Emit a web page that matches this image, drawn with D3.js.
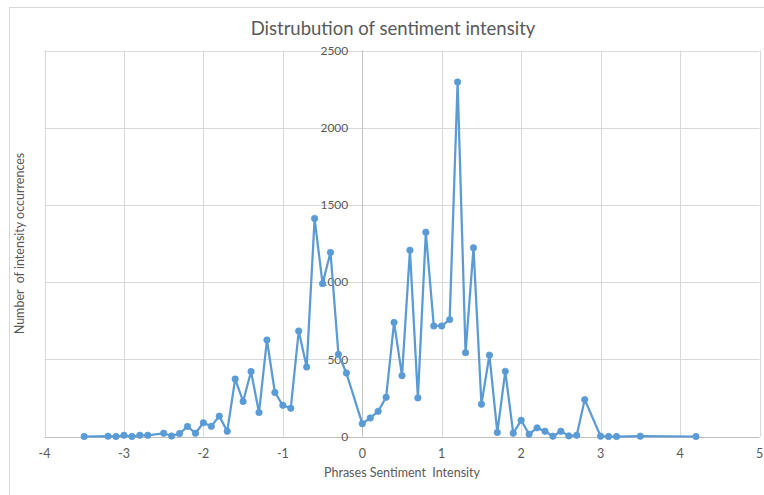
<!DOCTYPE html>
<html>
<head>
<meta charset="utf-8">
<script src="https://cdn.jsdelivr.net/npm/d3@7"></script>
<style>
  html, body { margin: 0; padding: 0; background: #fff; }
  svg { display: block; font-family: Lato, "Open Sans", sans-serif; }
</style>
</head>
<body>
<svg id="chart" width="764" height="495"></svg>
<script>
// ---- data ----
const intensity = [-3.5, -3.2, -3.1, -3.0, -2.9, -2.8, -2.7,
  -2.5, -2.4, -2.3, -2.2, -2.1, -2.0, -1.9, -1.8, -1.7, -1.6, -1.5, -1.4, -1.3, -1.2,
  -1.1, -1.0, -0.9, -0.8, -0.7, -0.6, -0.5, -0.4, -0.3, -0.2,
  0.0, 0.1, 0.2, 0.3, 0.4, 0.5, 0.6, 0.7, 0.8, 0.9, 1.0, 1.1, 1.2, 1.3, 1.4, 1.5,
  1.6, 1.7, 1.8, 1.9, 2.0, 2.1, 2.2, 2.3, 2.4, 2.5, 2.6, 2.7, 2.8,
  3.0, 3.1, 3.2, 3.5, 4.2];
const occurrences = [0, 2, 0, 8, 0, 8, 8,
  21, 3, 19, 65, 21, 89, 66, 132, 34, 372, 227, 421, 155, 625,
  285, 202, 183, 683, 450, 1412, 990, 1192, 532, 411,
  83, 120, 163, 254, 739, 394, 1207, 250, 1323, 716, 716, 757, 2296, 543, 1222, 209,
  527, 26, 422, 21, 105, 15, 56, 34, 2, 34, 4, 8, 239,
  2, 0, 0, 2, 0];
const xTicks = [-4, -3, -2, -1, 0, 1, 2, 3, 4, 5];
const yTicks = [0, 500, 1000, 1500, 2000, 2500];
const titleText = "Distrubution of sentiment intensity";
const xLabel = "Phrases Sentiment\u00a0 Intensity";
const yLabel = "Number\u00a0 of intensity occurrences";

// ---- layout ----
const svg = d3.select("#chart");
const plot = { left: 44.5, right: 759.5, top: 50.5, bottom: 436.5 };
const x = d3.scaleLinear().domain([-4, 5]).range([plot.left, plot.right]);
const y = d3.scaleLinear().domain([0, 2500]).range([plot.bottom, plot.top]);
const textColor = "#595959";
const gridColor = "#d9d9d9";
const axisColor = "#bfbfbf";
const seriesColor = "#5b9bd5";

// outer chart border
svg.append("rect")
  .attr("x", 9.5).attr("y", 7.5).attr("width", 800).attr("height", 520)
  .attr("fill", "none").attr("stroke", gridColor).attr("stroke-width", 1);

// gridlines
svg.append("g").selectAll("line.v").data(xTicks.filter(d => d !== 0)).join("line")
  .attr("x1", d => Math.round(x(d)) + 0.5).attr("x2", d => Math.round(x(d)) + 0.5)
  .attr("y1", plot.top).attr("y2", plot.bottom)
  .attr("stroke", gridColor).attr("stroke-width", 1);
svg.append("g").selectAll("line.h").data(yTicks.filter(d => d !== 0)).join("line")
  .attr("x1", plot.left).attr("x2", plot.right)
  .attr("y1", d => Math.round(y(d)) + 0.5).attr("y2", d => Math.round(y(d)) + 0.5)
  .attr("stroke", gridColor).attr("stroke-width", 1);

// axes at zero
svg.append("line")
  .attr("x1", plot.left).attr("x2", plot.right)
  .attr("y1", Math.round(y(0)) + 0.5).attr("y2", Math.round(y(0)) + 0.5)
  .attr("stroke", axisColor);
svg.append("line")
  .attr("x1", Math.round(x(0)) + 0.5).attr("x2", Math.round(x(0)) + 0.5)
  .attr("y1", plot.top).attr("y2", plot.bottom)
  .attr("stroke", axisColor);

// x tick labels
svg.append("g").selectAll("text").data(xTicks).join("text")
  .attr("x", d => x(d)).attr("y", 458)
  .attr("text-anchor", "middle")
  .attr("font-size", 12.5).attr("fill", textColor)
  .text(d => d);

// y tick labels (next to the vertical axis at x = 0)
svg.append("g").selectAll("text").data(yTicks).join("text")
  .attr("x", x(0) - 14).attr("y", d => y(d))
  .attr("dy", "0.35em")
  .attr("text-anchor", "end")
  .attr("font-size", 12).attr("fill", textColor)
  .text(d => d);

// title
svg.append("text")
  .attr("x", (plot.left + plot.right) / 2 - 9).attr("y", 35)
  .attr("text-anchor", "middle")
  .attr("font-size", 18.5).attr("fill", textColor)
  .text(titleText);

// axis titles
svg.append("text")
  .attr("x", (plot.left + plot.right) / 2).attr("y", 477)
  .attr("text-anchor", "middle")
  .attr("font-size", 12.5).attr("fill", textColor)
  .text(xLabel);
svg.append("text")
  .attr("transform", `translate(24, ${(plot.top + plot.bottom) / 2}) rotate(-90)`)
  .attr("text-anchor", "middle")
  .attr("font-size", 12.5).attr("fill", textColor)
  .text(yLabel);

// series
const pts = intensity.map((v, i) => ({ x: v, y: occurrences[i] }));
const line = d3.line().x(d => x(d.x)).y(d => y(d.y));
svg.append("path").datum(pts)
  .attr("d", line)
  .attr("fill", "none").attr("stroke", seriesColor)
  .attr("stroke-width", 2.25).attr("stroke-linejoin", "round");
svg.append("g").selectAll("circle").data(pts).join("circle")
  .attr("cx", d => x(d.x)).attr("cy", d => y(d.y)).attr("r", 3.2)
  .attr("fill", seriesColor).attr("stroke", seriesColor).attr("stroke-width", 0.75);
</script>
</body>
</html>
